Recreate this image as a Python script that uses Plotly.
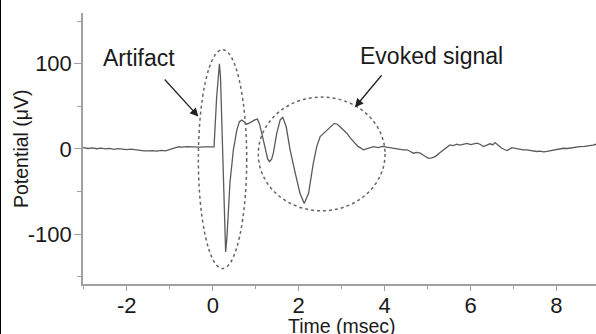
import plotly.graph_objects as go

# ---- data ----
time_ms = [-3.02, -2.9, -2.8, -2.7, -2.6, -2.5, -2.4, -2.3, -2.2, -2.1, -2.0, -1.9, -1.8, -1.7, -1.6,
           -1.5, -1.4, -1.3, -1.2, -1.1, -1.0, -0.9, -0.8, -0.7, -0.6, -0.5, -0.4, -0.3, -0.2, -0.1,
           0.0, 0.03, 0.09, 0.13, 0.155, 0.18, 0.24, 0.28, 0.30, 0.33, 0.40, 0.48, 0.56, 0.62, 0.675,
           0.73, 0.79, 0.86, 0.93, 0.98, 1.04, 1.09, 1.14, 1.22, 1.28, 1.32, 1.37, 1.41, 1.49, 1.57,
           1.63, 1.71, 1.80, 1.92, 2.03, 2.13, 2.23, 2.34, 2.42, 2.50, 2.57, 2.65, 2.75, 2.83, 2.90,
           2.96, 3.04, 3.12, 3.20, 3.27, 3.38, 3.51, 3.60, 3.74, 3.85, 3.95, 4.05, 4.15, 4.25, 4.36,
           4.45, 4.52, 4.60, 4.67, 4.75, 4.83, 4.92, 5.02, 5.10, 5.18, 5.27, 5.37, 5.45, 5.52, 5.60,
           5.68, 5.75, 5.83, 5.92, 6.00, 6.08, 6.15, 6.22, 6.30, 6.38, 6.45, 6.52, 6.57, 6.65, 6.72,
           6.80, 6.85, 6.96, 7.05, 7.15, 7.22, 7.31, 7.40, 7.47, 7.54, 7.62, 7.70, 7.78, 7.87, 7.95,
           8.05, 8.16, 8.25, 8.35, 8.45, 8.55, 8.65, 8.75, 8.85, 8.92]
potential_uv = [1.5, 0.5, 1.2, 0.2, 1.0, 0.0, 0.6, -0.4, 0.3, -0.6, -0.8, -0.2, -1.0, -1.5, -2.2,
                -2.4, -2.0, -2.6, -1.8, -2.2, -1.0, 0.8, 2.4, 2.0, 2.6, 2.2, 2.5, 2.2, 2.4, 2.3,
                2.4, 2.4, 60.0, 92.0, 100.0, 84.0, -30.0, -100.0, -121.0, -104.0, -40.0, -1.0, 22.0, 32.0, 34.0,
                32.0, 29.0, 30.5, 33.0, 34.0, 35.0, 29.0, 18.5, -1.0, -12.0, -15.0, -12.0, -5.0, 18.5, 34.0,
                37.0, 26.0, -1.0, -28.5, -52.0, -64.0, -52.0, -17.0, 2.7, 14.5, 18.0, 22.0, 27.0, 30.0, 29.0,
                26.0, 22.0, 18.5, 13.0, 8.6, 3.0, -1.0, 0.5, 2.7, 1.5, 3.0, 2.0, 1.0, 0.5, -0.4,
                -1.0, -1.0, -3.0, -5.0, -4.0, -5.0, -8.0, -11.0, -10.5, -9.0, -5.0, -1.0, 2.0, 4.7, 4.0,
                5.5, 4.5, 5.5, 6.5, 5.0, 6.0, 6.7, 5.5, 2.7, 4.5, 6.0, 5.0, 7.4, 4.0, 1.0,
                -1.0, -2.0, 1.5, 0.5, -0.5, -1.0, -1.0, -2.0, -2.5, -3.0, -2.5, -3.5, -3.0, -2.0, -1.5,
                -0.5, 0.8, 0.5, 1.5, 2.0, 2.7, 3.0, 3.5, 4.5, 5.5]

x_tick_vals = [-2, 0, 2, 4, 6, 8]
x_tick_text = ["-2", "0", "2", "4", "6", "8"]
y_tick_vals = [-100, 0, 100]
y_tick_text = ["-100", "0", "100"]

x_label = "Time (msec)"
y_label = "Potential (μV)"

artifact_label = "Artifact"
evoked_label = "Evoked signal"

# ellipse extents (data units)
artifact_box = dict(x0=-0.335, x1=0.79, y0=-140.4, y1=116.5)
evoked_box = dict(x0=1.06, x1=4.01, y0=-72.6, y1=60.8)

FONT = "Liberation Sans, Arial, Helvetica, sans-serif"
AXIS_COLOR = "#a0a0a0"
TEXT_COLOR = "#1a1a1a"

W, H = 596, 334
ML, MR, MT, MB = 83, 0, 13, 50
PW, PH = W - ML - MR, H - MT - MB

fig = go.Figure()
fig.add_trace(go.Scatter(x=time_ms, y=potential_uv, mode="lines",
                         line=dict(color="#5a5a5a", width=1.3), hoverinfo="skip",
                         showlegend=False))

for box in (artifact_box, evoked_box):
    fig.add_shape(type="circle", xref="x", yref="y", **box,
                  line=dict(color="#666666", width=1.5, dash="dot"))

# left black border of the picture
fig.add_shape(type="line", xref="paper", yref="paper",
              x0=-ML / PW, x1=-ML / PW, y0=-0.2, y1=1.1,
              line=dict(color="black", width=2))

# labels
fig.add_annotation(x=-1.72, y=107, xref="x", yref="y", text=artifact_label, showarrow=False,
                   font=dict(family=FONT, size=23, color=TEXT_COLOR))
fig.add_annotation(x=5.08, y=108.6, xref="x", yref="y", text=evoked_label, showarrow=False,
                   font=dict(family=FONT, size=23, color=TEXT_COLOR))

# arrows
fig.add_annotation(x=-0.335, y=38, ax=-1.15, ay=83.2, xref="x", yref="y", axref="x", ayref="y",
                   text="", showarrow=True, arrowhead=2, arrowsize=1.3, arrowwidth=1.3,
                   arrowcolor="#222222")
fig.add_annotation(x=3.31, y=49, ax=3.96, ay=88.2, xref="x", yref="y", axref="x", ayref="y",
                   text="", showarrow=True, arrowhead=2, arrowsize=1.3, arrowwidth=1.3,
                   arrowcolor="#222222")

# axis titles
fig.add_annotation(x=(342 - ML) / PW, y=-(326 - MT - PH) / PH, xref="paper", yref="paper",
                   text=x_label, showarrow=False, xanchor="center", yanchor="middle",
                   font=dict(family=FONT, size=19.5, color=TEXT_COLOR))
fig.add_annotation(x=(21 - ML) / PW, y=(H - MB - 149) / PH, xref="paper", yref="paper",
                   text=y_label, showarrow=False, xanchor="center", yanchor="middle",
                   textangle=-90, font=dict(family=FONT, size=19.5, color=TEXT_COLOR))

fig.update_layout(
    width=W, height=H,
    margin=dict(l=ML, r=MR, t=MT, b=MB, autoexpand=False),
    paper_bgcolor="white", plot_bgcolor="white",
    font=dict(family=FONT, color=TEXT_COLOR),
    showlegend=False,
)
fig.update_xaxes(
    range=[-3.02, 8.92], showgrid=False, zeroline=False, automargin=False,
    showline=True, linecolor=AXIS_COLOR, linewidth=1.5,
    ticks="outside", ticklen=5, tickwidth=1.2, tickcolor=AXIS_COLOR,
    tickvals=x_tick_vals, ticktext=x_tick_text,
    tickfont=dict(family=FONT, size=22, color=TEXT_COLOR),
    ticklabelstandoff=-4,
    minor=dict(ticks="outside", ticklen=3, tickwidth=1.2, tickcolor=AXIS_COLOR, dtick=1, tick0=-3),
)
fig.update_yaxes(
    range=[-158.5, 159.5], showgrid=False, zeroline=False, automargin=False,
    showline=True, linecolor=AXIS_COLOR, linewidth=1.5,
    ticks="outside", ticklen=7, tickwidth=1.2, tickcolor=AXIS_COLOR,
    tickvals=y_tick_vals, ticktext=y_tick_text,
    tickfont=dict(family=FONT, size=22, color=TEXT_COLOR),
    ticklabelstandoff=-2,
    minor=dict(ticks="outside", ticklen=4, tickwidth=1.2, tickcolor=AXIS_COLOR, dtick=50, tick0=-150),
)

fig.write_html("out.html", config={"displayModeBar": False},
               post_script="document.body.style.margin='0';document.body.style.overflow='hidden';")
